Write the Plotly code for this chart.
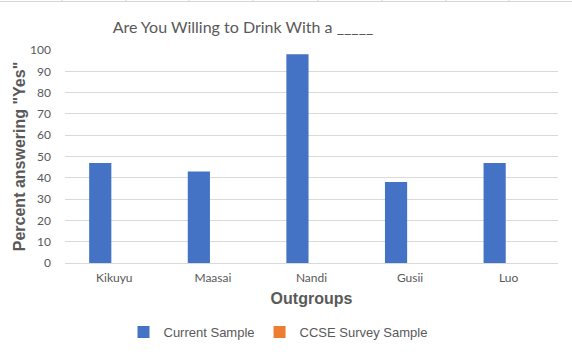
import plotly.graph_objects as go

categories = ["Kikuyu", "Maasai", "Nandi", "Gusii", "Luo"]
current_sample = [47, 43, 98, 38, 47]
ccse_sample = [0, 0, 0, 0, 0]
y_ticks = [0, 10, 20, 30, 40, 50, 60, 70, 80, 90, 100]

grey = "#595959"

fig = go.Figure()
fig.add_trace(go.Bar(
    x=categories, y=current_sample, name="Current Sample",
    marker=dict(color="#4472C4", line=dict(width=0)),
    width=0.225, offset=-0.255,
))
fig.add_trace(go.Bar(
    x=categories, y=ccse_sample, name="CCSE Survey Sample",
    marker=dict(color="#ED7D31", line=dict(width=0)),
    width=0.225, offset=-0.03,
))

# spreadsheet cell borders peeking in at the top
shapes = [dict(type="line", xref="paper", yref="paper",
               x0=-65/493, x1=507/493, y0=(263-1.5)/213, y1=(263-1.5)/213,
               line=dict(color="#d4d4d4", width=1))]
for px in [62, 126, 189, 253, 318, 382, 446, 509]:
    shapes.append(dict(type="line", xref="paper", yref="paper",
                       x0=(px-65)/493, x1=(px-65)/493,
                       y0=(263-0)/213, y1=(263-1.5)/213,
                       line=dict(color="#d4d4d4", width=1)))

fig.update_layout(
    width=572, height=355,
    margin=dict(l=65, r=14, t=50, b=92, autoexpand=False),
    paper_bgcolor="white", plot_bgcolor="white",
    barmode="overlay",
    title=dict(text="Are You Willing to Drink With a _____",
               font=dict(family="Lato, Carlito, sans-serif", size=16, color=grey),
               x=243/572, xref="container", xanchor="center",
               y=1-27/355, yref="container", yanchor="middle", automargin=False),
    showlegend=True,
    legend=dict(orientation="h", x=(278-65)/493, xanchor="center",
                y=(263-332)/213, yanchor="middle",
                font=dict(family="Liberation Sans, Arial, sans-serif", size=13, color=grey),
                itemwidth=30, traceorder="normal"),
    shapes=shapes,
)
fig.update_xaxes(
    type="category", showgrid=False, showline=True, linecolor="#d9d9d9", linewidth=1,
    ticks="", tickfont=dict(family="Lato, Carlito, sans-serif", size=12, color=grey),
    ticklabelstandoff=4, automargin=False,
    title=dict(text="Outgroups", standoff=8,
               font=dict(family="Liberation Sans, Arial, sans-serif", size=16, color=grey,
                         weight="bold")),
)
fig.update_yaxes(
    range=[0, 100], tickvals=y_ticks, showgrid=True, gridcolor="#d9d9d9", gridwidth=1,
    zeroline=False, showline=False, ticks="", automargin=False,
    tickfont=dict(family="Lato, Carlito, sans-serif", size=12, color=grey),
    ticklabelstandoff=13,
    title=dict(text='Percent answering "Yes"', standoff=0,
               font=dict(family="Liberation Sans, Arial, sans-serif", size=16, color=grey,
                         weight="bold")),
)
fig.write_html("out.html", config={"displayModeBar": False},
               post_script="document.body.style.margin='0';document.body.style.overflow='hidden';")
